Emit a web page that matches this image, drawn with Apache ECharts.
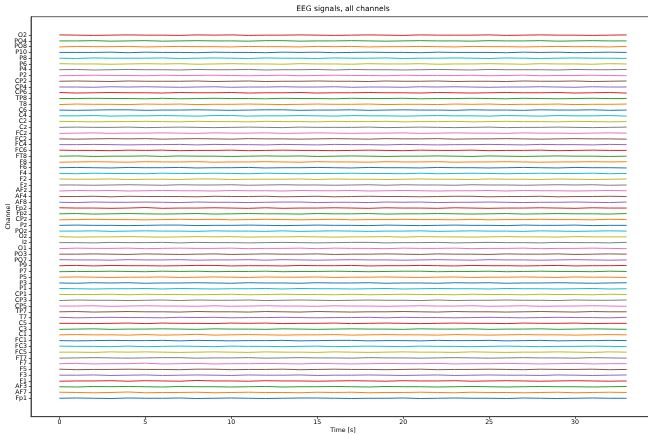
<!DOCTYPE html>
<html>
<head>
<meta charset="utf-8">
<script src="https://cdn.jsdelivr.net/npm/echarts@6/dist/echarts.min.js"></script>
<style>html,body{margin:0;padding:0;background:#fff}#c{width:648px;height:435px}</style>
</head>
<body>
<div id="c"></div>
<script>
// Channel names, bottom (offset 0) to top (offset 63)
const channels = ["Fp1","AF7","AF3","F1","F3","F5","F7","FT7","FC5","FC3","FC1","C1","C3","C5","T7","TP7","CP5","CP3","CP1","P1","P3","P5","P7","P9","PO7","PO3","O1","Iz","Oz","POz","Pz","CPz","Fpz","Fp2","AF8","AF4","AFz","Fz","F2","F4","F6","F8","FT8","FC6","FC4","FC2","FCz","Cz","C2","C4","C6","T8","TP8","CP6","CP4","CP2","P2","P4","P6","P8","P10","PO8","PO4","O2"];
// Time samples [s]
const times = [0,1,2,3,4,5,6,7,8,9,10,11,12,13,14,15,16,17,18,19,20,21,22,23,24,25,26,27,28,29,30,31,32,33];
// x tick labels
const xTicks = [0,5,10,15,20,25,30];
// Signal deviation per channel (steps), same order as channels
const amplitudeUnit = 0.045;
const signals = [
[0,1,0,-1,1,0,0,1,-1,0,1,0,-1,0,1,1,0,-1,0,0,1,-1,0,1,0,0,-1,1,0,-1,0,1,0,0],
[1,0,-1,0,2,-1,0,0,1,-1,0,1,0,0,-1,1,0,1,-1,0,0,1,0,-1,1,0,0,-1,0,1,-1,0,1,0],
[0,-1,1,0,1,0,-1,1,0,0,-1,0,1,-1,0,0,1,0,-1,1,0,0,-1,0,1,0,-1,0,1,0,0,-1,0,1],
[-1,0,0,1,-1,1,0,-1,2,0,0,-1,1,0,0,-1,0,1,0,-1,1,0,0,1,-1,0,1,0,-1,0,1,0,-1,0],
[0,0,1,-1,0,1,-1,0,1,0,-1,1,0,0,1,-1,0,0,1,0,-1,0,1,-1,0,1,0,0,-1,1,0,-1,0,1],
[1,-1,0,0,1,0,0,-1,1,1,-1,0,0,1,-1,0,1,0,0,-1,0,1,-1,0,0,1,0,-1,1,0,0,1,-1,0],
[0,1,-1,0,0,2,-1,0,1,-1,0,0,1,0,-1,1,0,-1,0,1,0,0,1,-1,0,0,1,0,-1,0,1,-1,0,0],
[-1,0,1,0,-1,0,1,1,-1,0,0,1,-1,0,1,0,0,-1,1,0,0,-1,0,1,0,-1,0,1,0,0,-1,1,0,-1],
[0,0,-1,1,0,1,0,-1,0,1,0,-1,1,0,0,-1,1,0,-1,0,1,0,0,-1,1,0,-1,0,0,1,0,-1,1,0],
[1,0,0,-1,1,-1,0,1,0,-1,1,0,0,-1,0,1,-1,0,1,0,-1,1,0,0,-1,0,1,0,-1,0,0,1,0,-1],
[0,-1,0,1,0,0,1,-1,1,0,-1,0,0,1,-1,0,1,1,-1,0,0,-1,1,0,0,1,-1,0,1,-1,0,0,1,0],
[0,1,0,0,-1,1,-1,0,2,-1,0,1,0,-1,0,0,1,-1,0,1,0,0,-1,1,0,-1,0,1,0,0,-1,0,1,0],
[-1,0,1,-1,0,0,1,0,-1,1,0,0,-1,1,0,-1,0,1,0,0,-1,1,0,0,1,-1,0,0,1,-1,0,1,0,-1],
[0,0,-1,0,1,-1,1,0,0,-1,1,0,1,-1,0,0,1,-1,0,1,0,-1,0,1,0,0,-1,1,0,0,1,-1,0,0],
[1,-1,0,1,0,0,-1,1,0,1,-1,0,0,1,0,-1,0,0,1,-1,1,0,0,-1,0,1,0,-1,0,1,0,0,-1,1],
[0,1,-1,0,1,0,0,-1,1,0,0,-1,1,0,-1,1,0,-1,0,0,1,0,-1,1,0,0,-1,0,1,0,-1,1,0,0],
[0,0,1,-1,0,1,0,0,-1,1,-1,0,1,0,0,-1,1,0,0,-1,0,1,0,0,1,-1,0,1,-1,0,0,1,0,-1],
[-1,1,0,0,-1,0,1,-1,1,0,0,1,-1,0,1,0,-1,0,1,0,0,-1,1,-1,0,0,1,0,0,-1,1,0,0,1],
[0,0,0,1,-1,1,0,0,-1,0,1,-1,0,1,0,0,-1,1,-1,0,1,0,0,-1,1,0,0,-1,1,0,0,-1,1,0],
[1,0,-1,0,0,1,-1,1,0,-1,0,0,1,-1,1,0,0,-1,0,1,-1,0,1,0,0,-1,1,0,0,-1,0,1,-1,0],
[0,-1,1,0,1,-1,0,0,1,0,-1,1,0,0,-1,1,0,0,1,-1,0,0,-1,1,0,1,-1,0,0,1,0,-1,0,1],
[0,1,0,-1,0,0,1,-1,0,1,0,-1,1,0,0,1,-1,0,0,1,0,-1,0,1,-1,0,0,1,0,-1,1,0,0,-1],
[-1,0,0,1,0,-1,1,0,1,-1,0,0,1,-1,0,0,1,0,-1,0,1,1,-1,0,0,1,-1,0,1,0,0,-1,1,0],
[0,1,-1,1,0,0,-1,0,1,1,-1,0,0,-1,1,0,0,1,-1,0,0,1,0,-1,1,0,0,-1,0,1,-1,0,0,1],
[1,0,0,-1,1,0,0,1,-1,0,0,1,-1,1,0,-1,0,1,0,0,-1,0,1,0,-1,1,0,0,-1,0,1,0,-1,0],
[0,0,1,0,-1,1,0,-1,0,1,-1,0,1,0,0,1,-1,0,0,1,0,-1,1,0,0,-1,1,0,0,1,-1,0,1,0],
[-1,1,0,0,1,-1,0,1,0,0,1,-1,0,0,1,-1,1,0,0,-1,1,0,0,1,-1,0,0,1,-1,0,0,1,0,-1],
[0,0,-1,1,0,0,1,-1,1,0,0,-1,0,1,0,-1,0,1,1,-1,0,0,1,-1,0,1,0,0,-1,1,0,0,-1,1],
[1,-1,0,0,1,0,-1,0,1,0,1,-1,0,0,1,0,-1,0,0,1,-1,1,0,0,-1,0,1,0,0,-1,1,0,0,0],
[0,0,1,-1,0,1,0,0,-1,1,0,0,-1,1,-1,0,1,0,-1,0,0,1,-1,0,1,0,0,-1,1,0,-1,0,1,0],
[0,1,0,0,-1,0,1,1,-1,0,0,1,0,-1,0,1,0,0,-1,1,0,-1,0,1,0,0,-1,1,0,0,1,-1,0,0],
[-1,0,1,0,0,-1,0,1,0,1,-1,0,1,0,-1,0,1,-1,0,0,1,0,0,-1,1,-1,0,0,1,0,0,-1,1,0],
[0,1,-1,0,1,0,-1,0,1,-1,0,1,0,0,-1,1,0,0,1,-1,0,0,1,0,-1,0,1,-1,0,1,0,0,-1,1],
[1,0,0,-1,0,2,-1,0,0,1,0,-1,1,-1,0,0,1,0,-1,1,0,0,-1,1,0,-1,0,0,1,0,-1,1,0,0],
[0,-1,1,0,0,1,0,-1,1,0,0,-1,0,1,1,-1,0,0,-1,1,0,1,-1,0,0,1,0,-1,0,0,1,0,-1,1],
[0,0,1,-1,1,0,0,0,-1,1,0,0,1,-1,0,1,-1,0,1,0,0,-1,0,1,1,-1,0,0,1,-1,0,0,1,0],
[-1,1,0,1,-1,0,1,0,0,-1,1,0,0,-1,1,0,0,1,-1,0,1,0,-1,0,0,1,-1,1,0,0,-1,0,1,0],
[0,0,-1,0,1,0,-1,1,0,0,1,-1,0,1,0,0,-1,0,1,-1,1,0,0,-1,1,0,0,-1,0,1,0,1,-1,0],
[1,0,0,1,-1,0,0,-1,1,1,-1,0,0,0,1,-1,1,0,0,-1,0,1,0,0,-1,1,0,0,-1,1,0,-1,0,1],
[0,-1,1,0,0,-1,1,0,0,1,0,-1,1,0,-1,0,0,1,0,0,-1,1,-1,0,1,0,-1,0,1,0,0,1,-1,0],
[0,1,0,-1,1,0,0,1,-1,0,0,1,-1,0,0,1,0,-1,1,0,0,-1,1,0,0,-1,0,1,0,-1,1,0,0,-1],
[-1,0,1,0,-1,1,0,0,1,-1,0,0,1,0,-1,1,0,0,-1,1,0,0,1,-1,0,0,1,0,-1,0,0,1,0,1],
[0,1,-1,0,0,1,-1,1,0,0,-1,0,1,0,1,-1,0,1,0,-1,0,0,1,0,-1,1,0,-1,0,1,0,0,-1,0],
[1,0,0,-1,1,0,1,-1,0,0,1,-1,0,1,0,0,-1,0,1,0,-1,1,0,0,1,-1,0,0,1,-1,0,1,0,0],
[0,0,1,0,-1,0,0,1,-1,1,0,0,-1,1,0,-1,1,0,0,-1,1,0,-1,0,0,1,0,-1,1,0,0,-1,1,0],
[0,-1,0,1,0,1,-1,0,1,0,-1,1,0,0,-1,0,1,0,-1,1,0,0,1,-1,0,0,1,0,-1,0,1,0,0,-1],
[-1,0,1,-1,0,0,1,0,-1,1,0,0,1,-1,0,1,0,-1,0,0,1,-1,0,1,0,0,-1,1,0,0,-1,0,1,0],
[0,1,0,0,1,-1,0,1,0,-1,0,1,0,-1,1,0,0,0,1,-1,0,1,0,-1,0,1,-1,0,0,1,0,-1,0,1],
[1,0,-1,0,0,1,0,-1,1,0,0,-1,1,0,0,-1,1,0,0,1,-1,0,0,1,-1,0,1,0,0,-1,1,0,-1,0],
[0,0,1,-1,0,0,1,0,-1,1,1,-1,0,0,1,0,-1,1,0,0,-1,0,1,0,0,-1,1,0,-1,1,0,0,1,-1],
[0,-1,0,1,1,-1,0,0,1,0,-1,0,1,1,-1,0,0,1,-1,0,1,0,0,-1,1,0,0,-1,1,0,0,1,-1,0],
[-1,1,0,0,-1,1,0,1,-1,0,0,1,0,-1,0,1,0,0,1,-1,0,0,-1,1,0,1,-1,0,0,1,-1,0,0,1],
[0,0,1,0,0,-1,1,-1,0,1,0,0,-1,1,0,0,-1,1,0,0,1,-1,0,0,1,0,-1,1,0,-1,0,1,0,0],
[1,-1,0,1,0,0,-1,1,0,0,1,-1,0,0,1,-1,0,0,1,0,0,-1,1,0,-1,0,1,0,0,1,-1,0,1,-1],
[0,0,-1,1,0,1,0,-1,0,1,-1,0,0,1,0,0,1,-1,0,0,-1,1,0,1,0,-1,0,0,1,0,-1,1,0,0],
[0,1,0,-1,1,0,0,0,1,-1,0,1,-1,0,0,1,0,0,-1,1,0,0,1,-1,0,0,-1,1,0,0,1,-1,0,1],
[-1,0,1,0,0,-1,1,0,0,1,0,-1,0,1,-1,0,1,0,0,-1,1,0,0,0,1,-1,0,1,-1,0,0,1,0,-1],
[0,1,-1,0,1,0,0,-1,1,0,0,1,-1,0,0,1,-1,1,0,0,-1,0,1,0,-1,1,0,0,0,-1,1,0,0,1],
[1,0,0,-1,0,1,0,1,-1,0,1,0,0,-1,1,0,0,-1,1,0,0,1,-1,0,0,1,0,-1,1,0,0,-1,1,0],
[0,-1,1,0,0,0,1,-1,0,1,0,-1,1,0,0,-1,1,0,0,1,-1,0,0,1,0,-1,1,0,-1,0,1,0,0,-1],
[0,0,0,1,-1,1,0,0,-1,1,0,0,-1,1,0,1,-1,0,1,0,0,-1,1,0,0,0,-1,1,0,1,-1,0,1,0],
[-1,1,0,0,1,-1,0,1,0,0,-1,1,0,0,-1,1,0,1,-1,0,0,1,0,-1,1,0,0,-1,0,1,0,0,-1,1],
[0,0,1,-1,0,1,-1,0,1,0,0,-1,1,1,-1,0,0,1,0,-1,0,1,0,0,-1,1,0,0,1,-1,0,1,0,0],
[1,0,-1,0,1,0,0,-1,1,0,1,-1,0,0,1,0,-1,0,1,0,-1,1,0,0,0,1,-1,0,1,0,0,-1,0,1]
];
const palette = ['#1f77b4','#ff7f0e','#2ca02c','#d62728','#9467bd','#8c564b','#e377c2','#7f7f7f','#bcbd22','#17becf'];

const evenIdx = channels.map((_, i) => i).filter(i => i % 2 === 0);
const oddIdx = channels.map((_, i) => i).filter(i => i % 2 === 1);
const series = channels.map((name, i) => ({
  name: name,
  type: 'line',
  yAxisIndex: 0,
  showSymbol: false,
  symbol: 'none',
  silent: true,
  lineStyle: { width: 1 },
  data: signals[i].map((v, k) => [times[k], i + v * amplitudeUnit])
}));

const font = 'DejaVu Sans';
const yMin = -3.2, yMax = 66.2;
function yAxisFor(vals, main) {
  return {
    type: 'value', min: yMin, max: yMax, position: 'left', offset: 0,
    name: main ? 'Channel' : '', nameLocation: 'middle', nameGap: 20, nameRotate: 90, nameMoveOverlap: false,
    nameTextStyle: { fontFamily: font, fontSize: 6.25, color: '#000' },
    axisLine: { show: main, onZero: false, lineStyle: { color: '#333', width: 0.8 } },
    axisTick: { show: true, length: 2.2, customValues: vals, lineStyle: { color: '#333', width: 0.8 } },
    axisLabel: { customValues: vals, margin: 4, hideOverlap: false, showMinLabel: true, showMaxLabel: true,
      fontFamily: font, fontSize: 6.25, color: '#000', formatter: v => channels[Math.round(v)] || '' },
    splitLine: { show: false }
  };
}

const chart = echarts.init(document.getElementById('c'), null, { renderer: 'canvas' });
chart.setOption({
  animation: false,
  color: palette,
  backgroundColor: '#fff',
  title: {
    text: 'EEG signals, all channels',
    left: 343, top: 5, textAlign: 'center', padding: 0,
    textStyle: { fontFamily: font, fontSize: 7.5, fontWeight: 'normal', color: '#000' }
  },
  grid: {
    left: 31, top: 16.7, right: -7, bottom: 18.3,
    containLabel: false, outerBoundsMode: 'none',
    show: true, borderColor: '#333', borderWidth: 0.8, backgroundColor: 'transparent'
  },
  xAxis: {
    type: 'value', min: -1.65, max: 34.65,
    name: 'Time [s]', nameLocation: 'middle', nameGap: 11, nameMoveOverlap: false,
    nameTextStyle: { fontFamily: font, fontSize: 6.25, color: '#000' },
    axisLine: { show: true, onZero: false, lineStyle: { color: '#333', width: 0.8 } },
    axisTick: { show: true, length: 2.2, customValues: xTicks, lineStyle: { color: '#333', width: 0.8 } },
    axisLabel: { customValues: xTicks, margin: 3, fontFamily: font, fontSize: 6.25, color: '#000', formatter: v => String(v) },
    splitLine: { show: false }
  },
  yAxis: [yAxisFor(evenIdx, true), yAxisFor(oddIdx, false)],
  series: series
});
</script>
</body>
</html>
